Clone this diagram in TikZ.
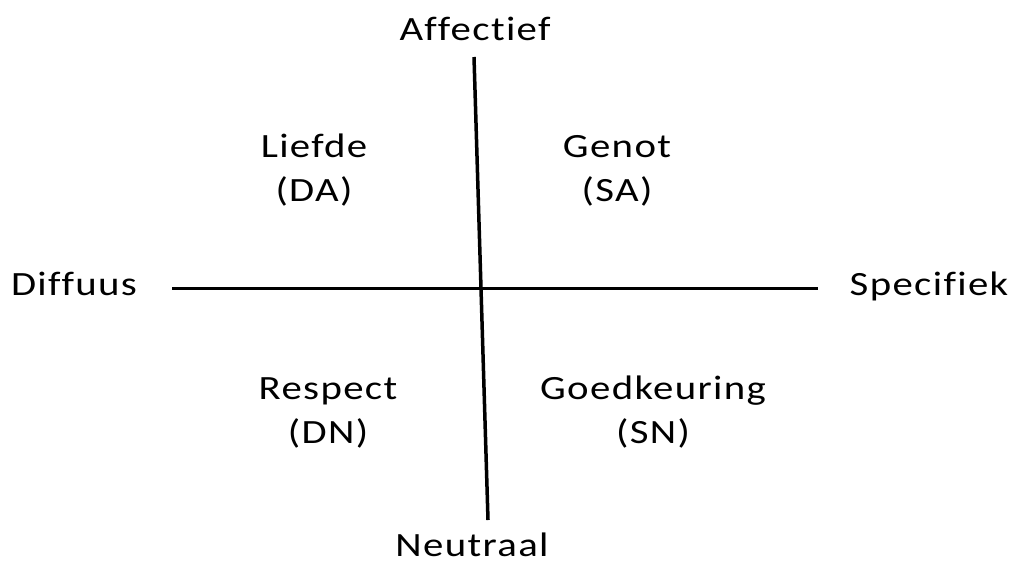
\documentclass[tikz,border=0pt]{standalone}
\usepackage{fontspec}
\setmainfont{Carlito}[FakeStretch=1.2, LetterSpace=4, Ligatures={NoCommon,NoDiscretionary}]
\begin{document}
\begin{tikzpicture}[x=1pt,y=-1pt,
  lbl/.style={font=\fontsize{34}{44}\selectfont, inner sep=0pt, anchor=base, align=center},
  axis/.style={line width=3.5pt, black}]
\useasboundingbox (0,0) rectangle (1014,563);
% axis end points
\coordinate (vtop) at (474,57);
\coordinate (vbot) at (488,520);
\coordinate (hleft) at (172,288);
\coordinate (hright) at (818,288);
\draw[axis] (vtop) -- (vbot);
\draw[axis, line width=3pt] (hleft) -- (hright);
% axis labels
\node[lbl] (aff) at (475,40) {Affectief};
\node[lbl] (neu) at (472,556) {Neutraal};
\node[lbl] (dif) at (74,295) {Diffuus};
\node[lbl] (spe) at (929,295) {Specifiek};
% quadrant labels (anchored at the baseline of the second line)
\node[lbl] (da) at (314,201) {Liefde\\(DA)};
\node[lbl] (sa) at (617,201) {Genot\\(SA)};
\node[lbl] (dn) at (328,443) {Respect\\(DN)};
\node[lbl] (sn) at (653,443) {Goedkeuring\\(SN)};
\end{tikzpicture}
\end{document}
